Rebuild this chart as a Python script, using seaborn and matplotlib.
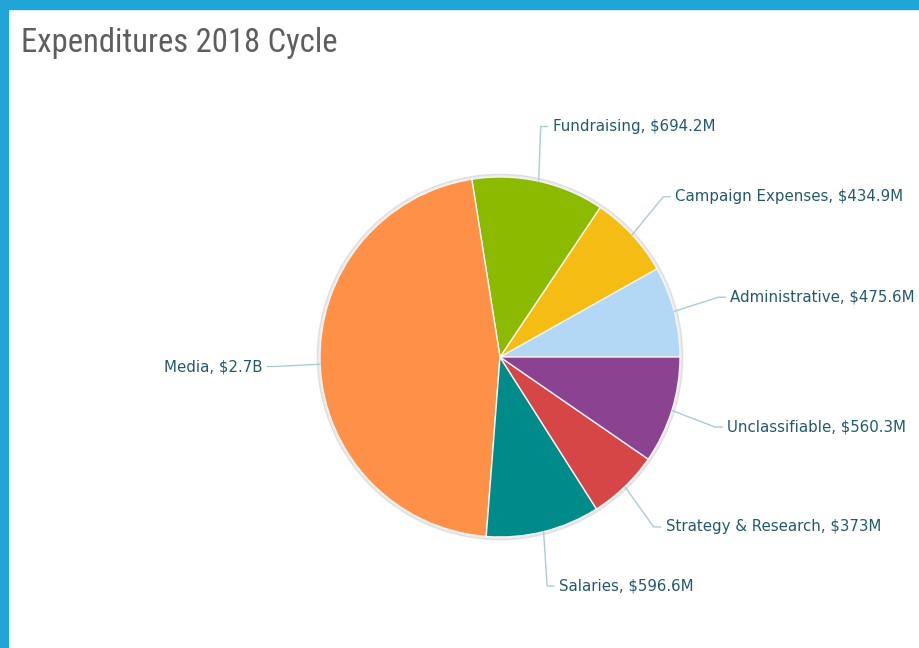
import numpy as np
import matplotlib
matplotlib.use('Agg')
import matplotlib.pyplot as plt
import seaborn as sns
from matplotlib.patches import Rectangle, Circle

# data (in $M), counter-clockwise from 3 o'clock
categories = ['Administrative', 'Campaign Expenses', 'Fundraising', 'Media',
              'Salaries', 'Strategy & Research', 'Unclassifiable']
amounts = [475.6, 434.9, 694.2, 2700.0, 596.6, 373.0, 560.3]
amount_text = ['$475.6M', '$434.9M', '$694.2M', '$2.7B',
               '$596.6M', '$373M', '$560.3M']
slice_colors = ['#b2d8f6', '#f5bd14', '#8cba00', '#ff9047',
                '#008b8b', '#d64646', '#8b4290']

sns.set_theme(style='white')
plt.rcParams['font.family'] = ['DejaVu Sans']

fig = plt.figure(figsize=(9.2, 6.48), dpi=100)
fig.patch.set_facecolor('white')
ax = fig.add_axes([0, 0, 1, 1])

# pie radius = 180 px, centre at (500, 357) px from top-left
R = 180.0

# soft shadow around the pie
ax.add_patch(Circle((0, 0), 1.015, color='#000000', alpha=0.08, zorder=0))

wedges, _ = ax.pie(amounts, colors=slice_colors, startangle=0, radius=1.0,
                   wedgeprops=dict(edgecolor='#f4f4f4', linewidth=1.0),
                   frame=True)
ax.set_xlim(-500 / R, 420 / R)
ax.set_ylim((357 - 648) / R, 357 / R)
ax.set_aspect('equal')
ax.axis('off')

label_r = 236 / R
for w, cat, txt in zip(wedges, categories, amount_text):
    ang = np.deg2rad((w.theta1 + w.theta2) / 2)
    ex, ey = np.cos(ang), np.sin(ang)
    lx, ly = label_r * np.cos(ang), label_r * np.sin(ang)
    side = 1 if lx >= 0 else -1
    bend = lx - side * 10 / R
    end = lx - side * 3 / R
    ax.plot([ex, bend, end], [ey, ly, ly], color='#a9cdd8', lw=1, zorder=1)
    ax.text(lx + side * 2 / R, ly, f'{cat}, {txt}', fontsize=10.8,
            color='#215a6e', ha='left' if side > 0 else 'right', va='center',
            family=['DejaVu Sans'])

# frame border (top and left)
fig.patches.append(Rectangle((0, 1 - 9 / 648), 1, 9 / 648, transform=fig.transFigure,
                             color='#1fa5d8', zorder=5))
fig.patches.append(Rectangle((0, 0), 8 / 920, 1, transform=fig.transFigure,
                             color='#1fa5d8', zorder=5))

fig.text(21 / 920, 1 - 43 / 648, 'Expenditures 2018 Cycle', fontsize=23.5,
         color='#5e5e5e', va='center', ha='left', fontweight='normal',
         family=['Roboto Condensed', 'Open Sans'])

fig.savefig('out.png', dpi=100, facecolor='white')
